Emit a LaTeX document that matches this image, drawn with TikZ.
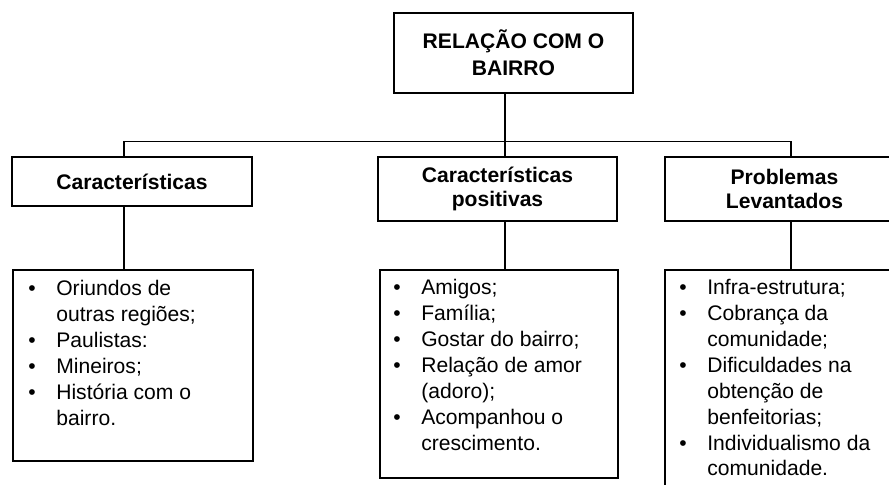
\documentclass[tikz,border=0pt]{standalone}
\usepackage{fontspec}
\setmainfont{Liberation Sans}
\usetikzlibrary{positioning}

\tikzstyle{caixa} = [draw,line width=0.9pt,inner sep=0pt,align=center,font=\bfseries\fontsize{12}{13.5}\selectfont]
\tikzstyle{lista} = [anchor=north west,inner sep=0pt,align=left,font=\fontsize{12}{14.75}\selectfont]
\tikzstyle{ligacao} = [draw,line width=0.9pt,-]

\begin{document}
\begin{tikzpicture}[x=0.2mm,y=-0.2mm]
      \useasboundingbox (0,0) rectangle (889,484);
      %% caixas de titulo
      \node[caixa,minimum width=47.8mm,minimum height=16mm,font=\bfseries\fontsize{12}{15.4}\selectfont]
        (relacao) at (513.5,53) {RELAÇÃO COM O\\BAIRRO};
      \node[caixa,minimum width=48mm,minimum height=9.8mm] (carac) at (132,181.5) {Características};
      \node[caixa,minimum width=47.8mm,minimum height=12.8mm] (positivas) at (497.5,189) {Características\\positivas};
      \node[caixa,minimum width=47.8mm,minimum height=12.8mm] (problemas) at (784.5,189) {Problemas\\Levantados};
      %% caixas das listas
      \foreach \nodename/\x/\largura/\altura in {listaA/12/48/38.2, listaB/379/47.6/41.6, listaC/664/48/46.2}
      {
        \node[caixa,anchor=north west,minimum width=\largura mm,minimum height=\altura mm] (\nodename) at (\x,269) {};
      }
      %% textos das listas
      \node[lista] (textoA) at ([shift={(16,8)}]listaA.north west) {\begin{tabular}{@{}p{5.6mm}@{}l@{}}
        \textbullet & Oriundos de\\ & outras regiões;\\ \textbullet & Paulistas:\\
        \textbullet & Mineiros;\\ \textbullet & História com o\\ & bairro.\end{tabular}};
      \node[lista] (textoB) at ([shift={(14,7)}]listaB.north west) {\begin{tabular}{@{}p{5.6mm}@{}l@{}}
        \textbullet & Amigos;\\ \textbullet & Família;\\ \textbullet & Gostar do bairro;\\
        \textbullet & Relação de amor\\ & (adoro);\\ \textbullet & Acompanhou o\\ & crescimento.\end{tabular}};
      \node[lista] (textoC) at ([shift={(15,7)}]listaC.north west) {\begin{tabular}{@{}p{5.6mm}@{}l@{}}
        \textbullet & Infra-estrutura;\\ \textbullet & Cobrança da\\ & comunidade;\\
        \textbullet & Dificuldades na\\ & obtenção de\\ & benfeitorias;\\
        \textbullet & Individualismo da\\ & comunidade.\end{tabular}};
      %% ligacoes
      \coordinate (meio) at (505,141.5);
      \coordinate (esq) at (124,141.5);
      \coordinate (dir) at (791,141.5);
      \path[ligacao] (relacao.south -| meio) -- (meio |- positivas.north);
      \path[ligacao] (esq |- carac.north) -- (esq) -- (dir) -- (dir |- problemas.north);
      \foreach \topo/\base/\ponto in {carac/listaA/esq, positivas/listaB/meio, problemas/listaC/dir}
      {
        \path[ligacao] (\topo.south -| \ponto) -- (\ponto |- \base.north);
      }
\end{tikzpicture}
\end{document}
